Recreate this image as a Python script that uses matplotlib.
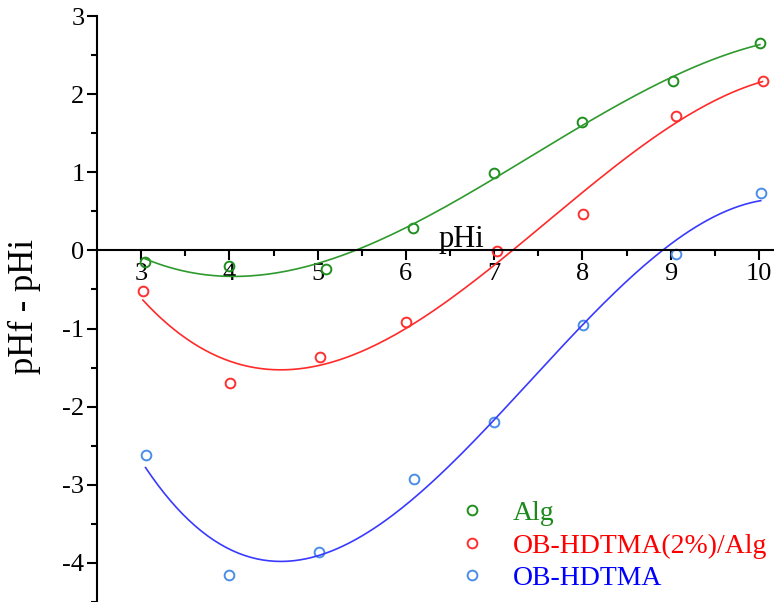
import numpy as np
import matplotlib.pyplot as plt

plt.rcParams['font.family'] = ['Liberation Serif', 'DejaVu Serif']
plt.rcParams['axes.unicode_minus'] = False

# measured pH change vs initial pH
alg_x = [3.04, 4.00, 5.10, 6.08, 7.00, 8.00, 9.03, 10.01]
alg_y = [-0.15, -0.20, -0.24, 0.29, 0.99, 1.64, 2.17, 2.65]

comp_x = [3.02, 4.01, 5.03, 6.00, 7.03, 8.01, 9.06, 10.04]
comp_y = [-0.52, -1.70, -1.36, -0.91, -0.01, 0.47, 1.72, 2.17]

ob_x = [3.05, 4.00, 5.02, 6.09, 7.00, 8.01, 9.06, 10.02]
ob_y = [-2.62, -4.16, -3.86, -2.92, -2.20, -0.95, -0.05, 0.74]

series = [
    ("Alg", alg_x, alg_y, "#1f8f1f", "#2e9a2e", "#1a8a1a"),
    ("OB-HDTMA(2%)/Alg", comp_x, comp_y, "#ff3030", "#ff2a2a", "#ff0000"),
    ("OB-HDTMA", ob_x, ob_y, "#4a8ee8", "#3a3aff", "#0000ff"),
]

fig = plt.figure(figsize=(7.74, 6.02), dpi=100)
ax = fig.add_axes([0.1253, 0.0, 0.8747, 0.9734])

for name, x, y, mcol, lcol, tcol in series:
    ax.plot(x, y, 'o', mfc='none', mec=mcol, ms=7, mew=1.4, label=name)
    # cubic fit through the points
    coef = np.polyfit(x, y, 3)
    xs = np.linspace(x[0], x[-1], 200)
    ax.plot(xs, np.polyval(coef, xs), color=lcol, lw=1.2)

ax.set_xlim(2.5, 10.17)
ax.set_ylim(-4.49, 3)

ax.spines['top'].set_visible(False)
ax.spines['right'].set_visible(False)
ax.spines['bottom'].set_position(('data', 0))
for s in ('left', 'bottom'):
    ax.spines[s].set_linewidth(1.5)

ax.set_xticks(range(3, 11))
ax.set_xticks(np.arange(3.5, 10.5, 1), minor=True)
ax.set_yticks(range(-4, 4))
ax.set_yticks(np.arange(-4.5, 3, 1), minor=True)
ax.tick_params(which='major', direction='out', length=7, width=1.5, labelsize=19, pad=2)
ax.tick_params(which='minor', direction='out', length=4, width=1.5)

ax.set_ylabel('pHf - pHi', fontsize=25)
ax.yaxis.set_label_coords(-0.083, 0.505)
ax.text(6.63, 0.04, 'pHi', fontsize=22, ha='center', va='baseline')

leg = ax.legend(loc='lower left', bbox_to_anchor=(433 / 774, -14 / 602),
                bbox_transform=fig.transFigure, frameon=False,
                fontsize=20, handletextpad=0.97, labelspacing=0.25, handlelength=1.0)
for txt, s in zip(leg.get_texts(), series):
    txt.set_color(s[5])

fig.savefig('out.png', dpi=100)
